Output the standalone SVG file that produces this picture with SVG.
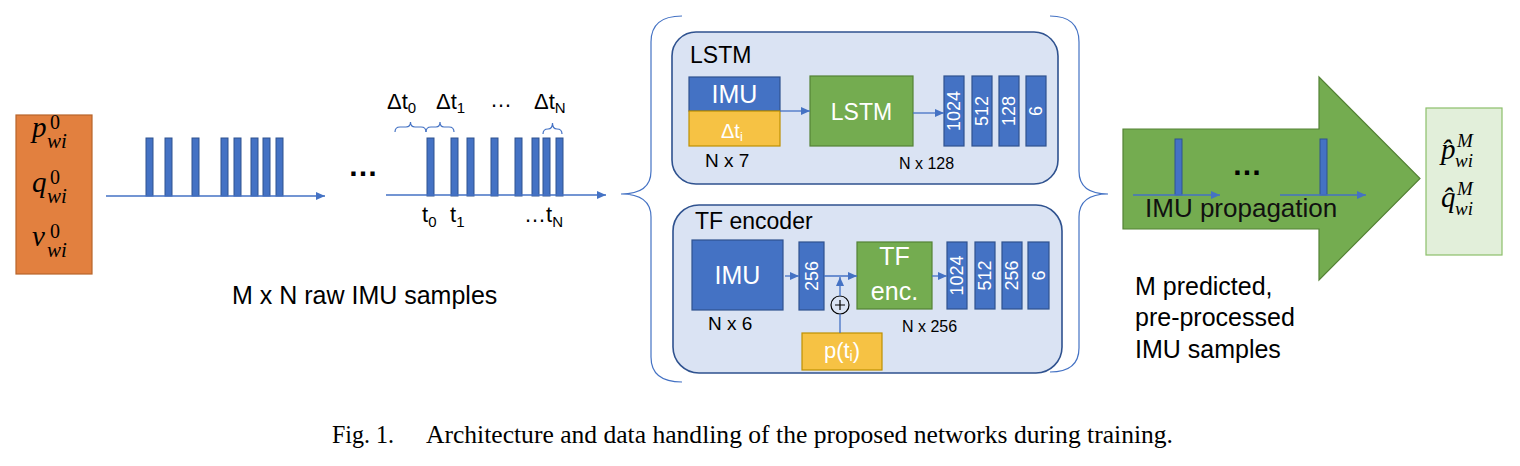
<svg xmlns="http://www.w3.org/2000/svg" width="1520" height="466" viewBox="0 0 1520 466">
<style>
.sans{font-family:"Liberation Sans",Arial,sans-serif}
.serif{font-family:"Liberation Serif","Times New Roman",serif}
.it{font-style:italic}
.blue{fill:#4472C4;stroke:#2F528F;stroke-width:1.2}
.gold{fill:#F6C244;stroke:#BF9000;stroke-width:1.2}
.green{fill:#74AC50;stroke:#548235;stroke-width:1.2}
.panel{fill:#DAE3F3;stroke:#2F528F;stroke-width:1.6}
.line{stroke:#4472C4;stroke-width:1.3;fill:none}
.brace{stroke:#4472C4;stroke-width:1.2;fill:none}
.bar{fill:#4472C4;stroke:#2F528F;stroke-width:1}
.w{fill:#ffffff}
.k{fill:#000000}
.mid{text-anchor:middle}
</style>
<defs>
<marker id="ah" markerUnits="userSpaceOnUse" markerWidth="10" markerHeight="8" refX="9" refY="4" orient="auto">
<path d="M0,0 L9,4 L0,8 z" fill="#4472C4"/>
</marker>
</defs>
<rect x="0" y="0" width="1520" height="466" fill="#ffffff"/>

<g id="initial-state">
<rect x="16" y="115" width="76" height="159" fill="#E2803F" stroke="#B8642A" stroke-width="1.2"/>
<text class="serif it k" font-size="29" x="32" y="137">p<tspan x="47" y="148" font-size="21">wi</tspan><tspan x="50" y="129" font-size="20" font-style="normal">0</tspan></text>
<text class="serif it k" font-size="29" x="32" y="192">q<tspan x="47" y="203" font-size="21">wi</tspan><tspan x="50" y="184" font-size="20" font-style="normal">0</tspan></text>
<text class="serif it k" font-size="29" x="32" y="246">v<tspan x="47" y="257" font-size="21">wi</tspan><tspan x="50" y="238" font-size="20" font-style="normal">0</tspan></text>
</g>

<g id="raw-samples-1">
<rect class="bar" x="146" y="138" width="7" height="58"/>
<rect class="bar" x="165" y="138" width="7" height="58"/>
<rect class="bar" x="192" y="138" width="7" height="58"/>
<rect class="bar" x="221" y="138" width="7" height="58"/>
<rect class="bar" x="234" y="138" width="7" height="58"/>
<rect class="bar" x="251" y="138" width="7" height="58"/>
<rect class="bar" x="263" y="138" width="7" height="58"/>
<rect class="bar" x="276" y="138" width="7" height="58"/>
</g>

<g id="ellipsis-1">
<text class="sans k" font-size="30" font-weight="bold" x="348" y="176">…</text>
</g>

<g id="raw-samples-2">
<rect class="bar" x="427" y="138" width="7" height="58"/>
<rect class="bar" x="451" y="138" width="7" height="58"/>
<rect class="bar" x="467" y="138" width="7" height="58"/>
<rect class="bar" x="491" y="138" width="7" height="58"/>
<rect class="bar" x="515" y="138" width="7" height="58"/>
<rect class="bar" x="532" y="138" width="7" height="58"/>
<rect class="bar" x="543" y="138" width="7" height="58"/>
<rect class="bar" x="556" y="138" width="7" height="58"/>
<path class="brace" d="M395,132 Q395,127 400,127 L406,127 Q410.5,127 410.5,122 Q410.5,127 415,127 L421,127 Q426,127 426,132"/>
<path class="brace" d="M426,132 Q426,127 431,127 L436,127 Q440,127 440,122 Q440,127 444,127 L449,127 Q454,127 454,132"/>
<path class="brace" d="M543,134 Q543,129 548,129 Q552.5,129 552.5,123 Q552.5,129 557,129 Q562,129 562,134"/>
<text class="sans k" font-size="22" x="387" y="109">Δt<tspan font-size="15" dy="4">0</tspan></text>
<text class="sans k" font-size="22" x="436" y="109">Δt<tspan font-size="15" dy="4">1</tspan></text>
<text class="sans k" font-size="22" x="490" y="107">…</text>
<text class="sans k" font-size="22" x="534" y="109">Δt<tspan font-size="15" dy="4">N</tspan></text>
<text class="sans k" font-size="22" x="422" y="222">t<tspan font-size="15" dy="5">0</tspan></text>
<text class="sans k" font-size="22" x="450" y="222">t<tspan font-size="15" dy="5">1</tspan></text>
<text class="sans k" font-size="22" x="524" y="222">…t<tspan font-size="15" dy="5">N</tspan></text>
</g>

<g id="raw-label">
<text class="sans k" font-size="25" x="232" y="304">M x N raw IMU samples</text>
</g>

<g id="brace-left">
<path class="brace" d="M682,16 Q651,16 651,42 L651,171 Q651,194 621,194 Q651,194 651,217 L651,357 Q651,382 682,382"/>
</g>
<g id="brace-right">
<path class="brace" d="M1050,16 Q1079,16 1079,42 L1079,171 Q1079,194 1108,194 Q1079,194 1079,217 L1079,348 Q1079,372 1050,372"/>
</g>

<g id="lstm-panel">
<rect class="panel" x="672" y="32" width="386" height="152" rx="24"/>
<text class="sans k" font-size="23" x="690" y="63">LSTM</text>
<rect class="blue" x="689" y="77" width="91" height="34"/>
<text class="sans w mid" font-size="25" x="734.5" y="103">IMU</text>
<rect class="gold" x="689" y="111" width="91" height="35"/>
<text class="sans w" font-size="20" x="721" y="138">Δt<tspan font-size="13" dy="3">i</tspan></text>
<text class="sans k" font-size="19" x="705" y="167">N x 7</text>
<rect class="green" x="810" y="76" width="103" height="70"/>
<text class="sans w mid" font-size="23" x="861.5" y="120">LSTM</text>
<text class="sans k" font-size="16" x="899" y="169">N x 128</text>
<rect class="blue" x="944" y="76" width="20" height="70"/>
<rect class="blue" x="972" y="76" width="20" height="70"/>
<rect class="blue" x="999" y="76" width="20" height="70"/>
<rect class="blue" x="1026" y="76" width="20" height="70"/>
<text class="sans w mid" font-size="18" x="954" y="117" transform="rotate(-90 954 111)">1024</text>
<text class="sans w mid" font-size="18" x="982" y="117" transform="rotate(-90 982 111)">512</text>
<text class="sans w mid" font-size="18" x="1009" y="117" transform="rotate(-90 1009 111)">128</text>
<text class="sans w mid" font-size="18" x="1036" y="117" transform="rotate(-90 1036 111)">6</text>
</g>

<g id="tf-panel">
<rect class="panel" x="673" y="205" width="389" height="168" rx="26"/>
<text class="sans k" font-size="23" x="695" y="229">TF encoder</text>
<rect class="blue" x="692" y="240" width="91" height="70"/>
<text class="sans w mid" font-size="25" x="737.5" y="284">IMU</text>
<text class="sans k" font-size="19" x="708" y="330">N x 6</text>
<rect class="blue" x="799" y="242" width="25" height="68"/>
<text class="sans w mid" font-size="18" x="811.5" y="282" transform="rotate(-90 811.5 276)">256</text>
<circle cx="840" cy="305" r="9" fill="none" stroke="#000" stroke-width="1.2"/>
<path d="M835,305 H845 M840,300 V310" stroke="#000" stroke-width="1.2"/>
<rect class="gold" x="802" y="333" width="80" height="37"/>
<text class="sans w mid" font-size="22" x="842" y="358">p(t<tspan font-size="14" dy="3">i</tspan><tspan dy="-3">)</tspan></text>
<rect class="green" x="857" y="242" width="75" height="67"/>
<text class="sans w mid" font-size="25" x="894.5" y="265">TF</text>
<text class="sans w mid" font-size="25" x="894.5" y="300">enc.</text>
<text class="sans k" font-size="16" x="902" y="332">N x 256</text>
<rect class="blue" x="947" y="242" width="20" height="67"/>
<rect class="blue" x="975" y="242" width="20" height="67"/>
<rect class="blue" x="1002" y="242" width="20" height="67"/>
<rect class="blue" x="1028" y="242" width="21" height="67"/>
<text class="sans w mid" font-size="18" x="957" y="281.5" transform="rotate(-90 957 275.5)">1024</text>
<text class="sans w mid" font-size="18" x="985" y="281.5" transform="rotate(-90 985 275.5)">512</text>
<text class="sans w mid" font-size="18" x="1012" y="281.5" transform="rotate(-90 1012 275.5)">256</text>
<text class="sans w mid" font-size="18" x="1038.5" y="281.5" transform="rotate(-90 1038.5 275.5)">6</text>
</g>

<g id="imu-propagation">
<polygon points="1123,129 1319,129 1319,77 1420,178.5 1319,280 1319,229 1123,229" fill="#74AC50" stroke="#548235" stroke-width="1.2"/>
<rect class="bar" x="1175" y="139" width="7" height="56"/>
<rect class="bar" x="1320" y="139" width="7" height="56"/>
<text class="sans k" font-size="30" font-weight="bold" x="1232" y="175">…</text>
<text class="sans" font-size="26" fill="#111" x="1145" y="217">IMU propagation</text>
</g>

<g id="predicted-label">
<text class="sans k" font-size="25" x="1135" y="295">M predicted,</text>
<text class="sans k" font-size="25" x="1135" y="326">pre-processed</text>
<text class="sans k" font-size="25" x="1135" y="358">IMU samples</text>
</g>

<g id="output-state">
<rect x="1426" y="108" width="76" height="147" fill="#E2EFDA" stroke="#8CBF6A" stroke-width="1.2"/>
<text class="serif it k" font-size="29" x="1441" y="159">p̂<tspan x="1455" y="167" font-size="19">wi</tspan><tspan x="1457" y="147" font-size="19">M</tspan></text>
<text class="serif it k" font-size="29" x="1441" y="207">q̂<tspan x="1455" y="215" font-size="19">wi</tspan><tspan x="1457" y="195" font-size="19">M</tspan></text>
</g>

<g id="connectors">
<line class="line" x1="106" y1="196" x2="325" y2="196" marker-end="url(#ah)"/>
<line class="line" x1="386" y1="195" x2="606" y2="195" marker-end="url(#ah)"/>
<line class="line" x1="780" y1="111" x2="810" y2="111" marker-end="url(#ah)"/>
<line class="line" x1="913" y1="113" x2="944" y2="113" marker-end="url(#ah)"/>
<line class="line" x1="785" y1="276" x2="799" y2="276" marker-end="url(#ah)"/>
<line class="line" x1="824" y1="276" x2="857" y2="276" marker-end="url(#ah)"/>
<line class="line" x1="840" y1="296" x2="840" y2="277" marker-end="url(#ah)"/>
<line class="line" x1="840" y1="333" x2="840" y2="314"/>
<line class="line" x1="932" y1="276" x2="947" y2="276" marker-end="url(#ah)"/>
<line class="line" x1="1133" y1="195" x2="1220" y2="195" marker-end="url(#ah)"/>
<line class="line" x1="1280" y1="195" x2="1366" y2="195" marker-end="url(#ah)"/>
</g>

<g id="caption">
<text class="serif k" font-size="25" x="332" y="443" textLength="62" lengthAdjust="spacingAndGlyphs">Fig. 1.</text>
<text class="serif k" font-size="25" x="426" y="443" textLength="747" lengthAdjust="spacingAndGlyphs">Architecture and data handling of the proposed networks during training.</text>
</g>
</svg>
